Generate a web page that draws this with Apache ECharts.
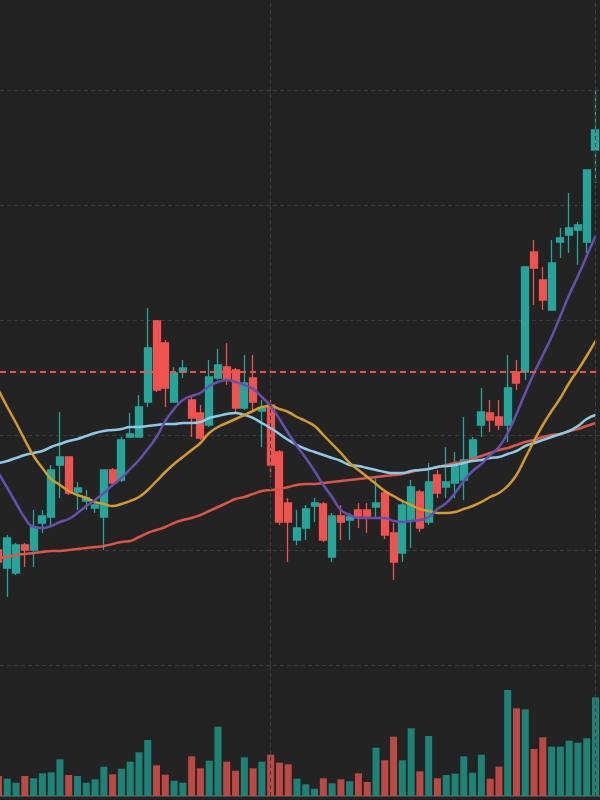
<!DOCTYPE html>
<html><head><meta charset="utf-8">
<script src="https://cdn.jsdelivr.net/npm/echarts@6/dist/echarts.min.js"></script>
<style>html,body{margin:0;padding:0;background:#232323}#c{width:600px;height:800px}</style>
</head><body><div id="c"></div>
<script>
// [open, close, low, high] per trading session (index = session number)
const candles = [
[34.5,33.3,33.0,34.7],[32.7,35.7,29.8,36.0],[32.2,35.0,32.0,35.2],[35.0,34.5,32.8,35.2],[34.5,36.8,32.8,38.5],
[37.2,37.9,36.2,38.5],[37.8,42.5,36.8,43.0],[43.0,43.8,39.7,48.3],[43.8,40.2,40.0,43.8],[40.3,40.7,38.5,41.3],
[39.4,39.7,38.5,40.5],[38.7,39.0,38.2,39.2],[37.8,42.5,34.5,42.5],[42.5,41.2,41.0,42.7],[41.5,45.5,41.3,45.8],
[45.8,46.1,45.7,48.2],[45.8,48.8,45.8,50.0],[49.3,54.7,48.8,58.7],[57.4,50.5,50.3,57.5],[55.2,50.7,48.8,55.5],
[49.3,52.2,49.3,52.8],[52.3,52.7,51.7,53.5],[49.5,47.7,45.8,50.0],[48.2,45.7,45.5,49.0],[47.0,51.8,46.8,53.5],
[51.7,53.0,51.5,54.6],[52.8,51.5,51.0,55.2],[52.5,48.7,48.2,52.7],[48.7,51.2,48.5,54.0],[51.7,49.3,48.5,54.0],
[48.4,48.7,44.8,49.5],[49.0,43.0,41.8,49.5],[44.3,37.3,37.0,44.5],[39.2,37.3,33.3,39.7],[35.5,36.7,35.0,38.5],
[36.7,38.6,35.5,39.0],[38.9,39.2,37.3,39.7],[39.1,35.5,35.3,39.3],[33.8,37.9,33.3,38.2],[37.9,37.3,35.5,39.0],
[37.5,37.8,35.5,38.2],[38.5,37.9,36.7,39.2],[38.5,37.9,36.2,39.2],[38.8,39.2,37.8,41.8],[40.2,36.0,35.6,40.5],
[36.2,33.3,31.5,37.2],[34.2,39.0,33.3,39.5],[37.5,40.8,34.7,41.5],[40.3,36.7,36.3,40.5],[37.3,41.3,37.0,43.2],
[42.0,40.2,39.7,42.5],[40.8,41.3,39.7,44.8],[41.2,43.0,39.7,44.3],[41.5,43.5,39.5,47.8],[43.7,45.5,43.5,45.8],
[47.0,48.3,45.8,50.7],[48.2,47.5,46.3,49.5],[47.8,47.0,46.5,49.5],[47.0,50.7,45.3,54.0],[52.3,51.2,50.5,53.5],
[52.3,62.8,51.5,62.8],[64.3,62.7,59.0,65.5],[61.5,59.5,58.5,62.8],[58.5,63.2,58.5,65.5],[65.3,65.7,63.7,66.7],
[66.0,66.7,64.2,70.2],[66.5,67.0,63.0,67.3],[65.3,72.5,64.2,72.5],[74.5,76.5,71.2,80.5]
];

const volumes = [200,173,133,200,177,227,237,367,210,200,
133,167,293,217,273,343,437,560,307,213,
153,133,397,277,353,693,343,253,387,277,
343,413,333,317,173,117,73,177,127,167,
147,227,140,483,357,593,357,677,247,600,
177,210,223,397,233,413,173,293,1060,877,
867,470,587,493,493,553,533,577,987];

const maPurple = [42.2,40.7,39.2,37.7,36.8,36.7,36.9,37.3,37.6,38.2,
38.9,39.5,40.2,41.0,41.7,42.6,43.5,44.6,45.8,47.4,
48.6,49.5,49.9,50.2,50.9,51.3,51.5,51.3,51.0,50.6,
49.8,48.9,47.6,46.2,44.9,43.7,42.4,41.0,39.8,38.5,
38.0,37.7,37.7,37.7,37.7,37.4,37.3,37.4,37.5,37.8,
38.6,39.2,40.2,41.4,42.4,43.1,44.0,44.8,46.2,48.1,
50.2,52.2,54.0,55.8,57.9,60.0,61.9,63.9,65.9];

const maOrange = [50.5,48.8,47.2,45.5,43.9,42.7,41.6,41.0,40.4,40.0,
39.7,39.3,39.1,38.9,39.1,39.4,39.8,40.5,41.4,42.3,
43.1,43.8,44.5,45.2,46.2,46.8,47.2,47.6,48.0,48.4,
48.8,48.9,48.6,48.3,47.8,47.4,46.9,46.0,45.1,44.2,
43.2,42.5,41.8,41.1,40.4,39.9,39.4,39.0,38.6,38.4,
38.2,38.2,38.3,38.6,38.9,39.3,39.8,40.2,40.9,42.0,
43.7,45.4,47.0,48.4,49.7,51.2,52.5,53.9,55.4];

const maBlue = [43.2,43.4,43.7,44.0,44.2,44.4,44.8,45.1,45.4,45.6,
45.9,46.2,46.4,46.5,46.6,46.8,46.8,46.9,47.0,47.1,
47.1,47.2,47.2,47.3,47.7,47.9,48.1,48.2,48.0,47.7,
47.2,46.7,46.1,45.5,45.0,44.6,44.3,44.0,43.7,43.4,
43.0,42.9,42.7,42.5,42.3,42.2,42.2,42.4,42.5,42.6,
42.8,42.9,43.0,43.2,43.4,43.5,43.7,43.8,44.1,44.4,
44.9,45.2,45.5,45.8,46.1,46.4,46.9,47.6,48.0];

const maRed = [33.7,33.8,34.0,34.1,34.2,34.3,34.4,34.4,34.5,34.6,
34.7,34.8,34.9,35.1,35.3,35.4,35.8,36.2,36.5,36.8,
37.2,37.5,37.7,38.0,38.4,38.8,39.2,39.6,39.8,40.1,
40.4,40.5,40.6,40.8,41.0,41.1,41.1,41.2,41.3,41.4,
41.5,41.6,41.7,41.8,41.9,42.0,42.1,42.3,42.5,42.6,
42.8,43.0,43.2,43.3,43.6,43.9,44.2,44.5,44.7,45.0,
45.3,45.5,45.8,46.0,46.1,46.4,46.6,46.9,47.2];

const refLevel = 52.3;          // dashed reference price
const sessionMarks = [31, 68];  // vertical separators (session index)
const priceTicks = { min: 23, max: 89.5, interval: 11.5 };
const sessionWindow = { min: 0.171, max: 68.513 };

const UP = '#26a69a', DOWN = '#ef5350';
const UP_VOL = '#1d8376', DOWN_VOL = '#bb4a47';
const GRID_LINE = { color: '#3d3d3d', type: [4, 3], width: 1 };

const idx = (arr) => arr.map((v, i) => [i, v]);
const hidden = { axisLine: { show: false }, axisTick: { show: false }, axisLabel: { show: false } };
const vLineSeries = (g) => ({
  type: 'line', xAxisIndex: g, yAxisIndex: g, data: [], z: 0, silent: true,
  markLine: {
    silent: true, symbol: 'none', label: { show: false }, lineStyle: GRID_LINE,
    data: sessionMarks.map((s) => ({ xAxis: s }))
  }
});

const chart = echarts.init(document.getElementById('c'), null, { renderer: 'canvas' });
chart.setOption({
  animation: false,
  backgroundColor: '#232323',
  grid: [
    { left: 0, right: 0, top: 0, bottom: 135 },
    { left: 0, right: 0, top: 665, bottom: 4 }
  ],
  xAxis: [
    Object.assign({ gridIndex: 0, type: 'value', min: sessionWindow.min, max: sessionWindow.max, splitLine: { show: false } }, hidden),
    Object.assign({ gridIndex: 1, type: 'value', min: sessionWindow.min, max: sessionWindow.max, splitLine: { show: false } }, hidden,
      { axisLine: { show: true, onZero: false, lineStyle: { color: '#4a4a4a', width: 2 } } })
  ],
  yAxis: [
    Object.assign({ gridIndex: 0, type: 'value', min: priceTicks.min, max: priceTicks.max, interval: priceTicks.interval,
      splitLine: { show: true, showMinLine: true, showMaxLine: false, lineStyle: GRID_LINE } }, hidden),
    Object.assign({ gridIndex: 1, type: 'value', min: 0, max: 1310, splitLine: { show: false } }, hidden)
  ],
  series: [
    vLineSeries(0),
    vLineSeries(1),
    { type: 'candlestick', xAxisIndex: 0, yAxisIndex: 0, z: 2,
      data: candles.map((c, i) => [i].concat(c)),
      encode: { x: 0, y: [1, 2, 3, 4] },
      clip: false, barWidth: 7.5,
      itemStyle: { color: UP, color0: DOWN, borderColor: UP, borderColor0: DOWN, borderWidth: 1.3 },
      markLine: {
        silent: true, symbol: 'none', label: { show: false },
        lineStyle: { color: DOWN, type: [6, 4], width: 2 },
        data: [{ yAxis: refLevel }]
      } },
    { type: 'line', data: idx(maRed), smooth: true, symbol: 'none', lineStyle: { color: '#dc5648', width: 2.5 }, z: 3 },
    { type: 'line', data: idx(maBlue), smooth: true, symbol: 'none', lineStyle: { color: '#8ccbe8', width: 2.5 }, z: 3 },
    { type: 'line', data: idx(maOrange), smooth: true, symbol: 'none', lineStyle: { color: '#d39a2c', width: 2.5 }, z: 3 },
    { type: 'line', data: idx(maPurple), smooth: true, symbol: 'none', lineStyle: { color: '#6650ad', width: 2.5 }, z: 3 },
    { type: 'bar', xAxisIndex: 1, yAxisIndex: 1, data: idx(volumes), barWidth: 7, clip: false, z: 2,
      itemStyle: { color: (p) => candles[p.dataIndex][1] >= candles[p.dataIndex][0] ? UP_VOL : DOWN_VOL } }
  ]
});
</script></body></html>
